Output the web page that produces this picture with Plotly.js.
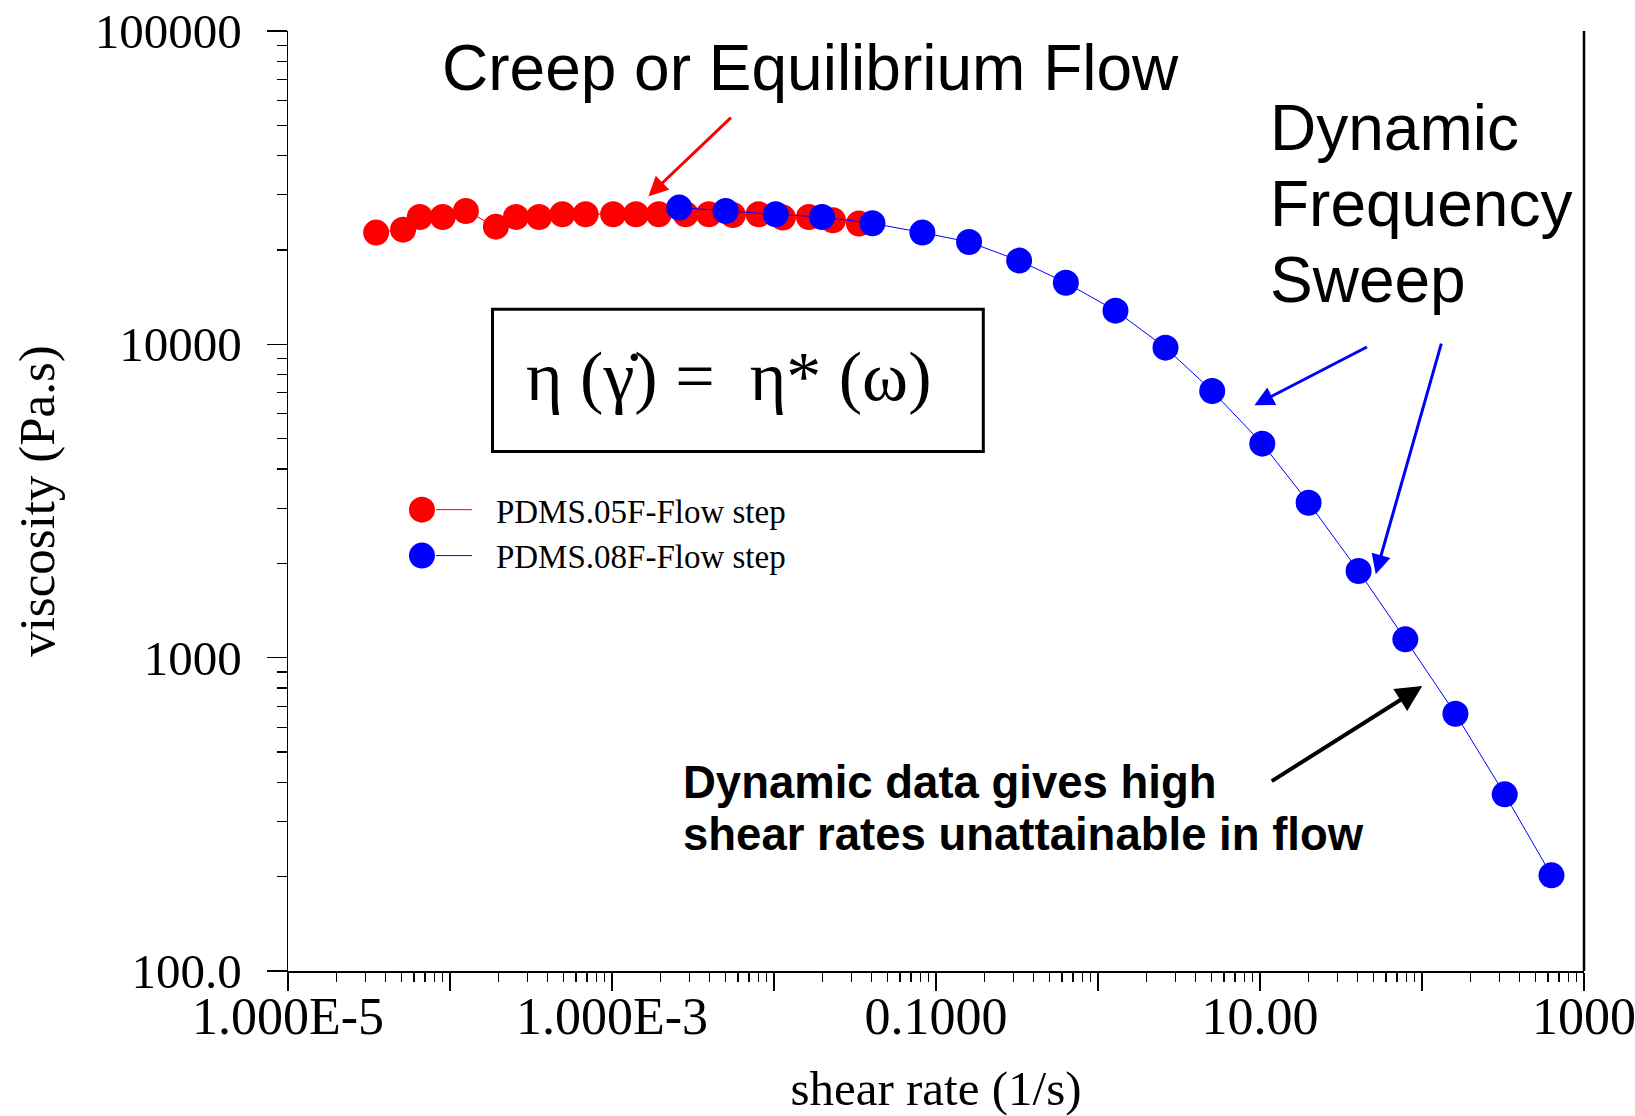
<!DOCTYPE html>
<html>
<head>
<meta charset="utf-8">
<script src="https://cdn.plot.ly/plotly-3.0.1.min.js"></script>
<style>
html,body{margin:0;padding:0;background:#ffffff;}
#chart{width:1635px;height:1116px;}
</style>
</head>
<body>
<div id="chart"></div>
<script>
// ---- data ----
const seriesNames = ['PDMS.05F-Flow step', 'PDMS.08F-Flow step'];

const flowShearRate = [3.50e-5, 5.13e-5, 6.51e-5, 9.02e-5, 1.253e-4, 1.92e-4, 2.553e-4, 3.548e-4,
  4.94e-4, 6.87e-4, 1.016e-3, 1.406e-3, 1.945e-3, 2.85e-3, 3.96e-3, 5.57e-3, 8.04e-3,
  1.135e-2, 1.643e-2, 2.311e-2, 3.345e-2];
const flowViscosity = [22730, 23230, 25490, 25490, 26650, 23750, 25490, 25490,
  26000, 26000, 26000, 26000, 26000, 26000, 26000, 25860, 26000,
  25380, 25490, 24880, 24290];

const dynShearRate = [0.0026, 0.00503, 0.01024, 0.0198, 0.0405, 0.0824, 0.160, 0.326, 0.633,
  1.282, 2.61, 5.07, 10.33, 19.95, 40.6, 78.9, 160.8, 324, 630];
const dynViscosity = [27320, 26650, 26000, 25490, 24340, 22730, 21210, 18500, 15730,
  12810, 9760, 7096, 4819, 3123, 1890, 1144, 662.5, 366.2, 202];

const xTickVals = [1e-5, 1e-4, 1e-3, 1e-2, 1e-1, 1, 10, 100, 1000];
const xTickText = ['1.000E-5', '', '1.000E-3', '', '0.1000', '', '10.00', '', '1000'];
const yTickVals = [100, 1000, 10000, 100000];
const yTickText = ['100.0', '1000', '10000', '100000'];

const xTitle = 'shear rate (1/s)';
const yTitle = 'viscosity (Pa.s)';

// minor tick positions (2..9 in each decade)
function minorTicks(e0, e1) {
  const out = [];
  for (let e = e0; e < e1; e++) {
    for (let d = 2; d <= 9; d++) out.push(d * Math.pow(10, e));
  }
  return out;
}
const xMinor = minorTicks(-5, 3);
const yMinor = minorTicks(2, 5);

const serif = 'Liberation Serif, Times New Roman, serif';
const sans = 'Liberation Sans, Arial, sans-serif';

const traces = [
  {
    x: flowShearRate, y: flowViscosity, name: seriesNames[0],
    type: 'scatter', mode: 'lines+markers',
    line: {color: '#ff0000', width: 1},
    marker: {color: '#ff0000', size: 26, line: {width: 0}}
  },
  {
    x: dynShearRate, y: dynViscosity, name: seriesNames[1],
    type: 'scatter', mode: 'lines+markers',
    line: {color: '#0000ff', width: 1},
    marker: {color: '#0000ff', size: 26, line: {width: 0}}
  }
];

const axisCommon = {
  type: 'log',
  tickmode: 'array',
  ticks: 'outside',
  tickwidth: 1.5,
  tickcolor: '#000',
  showline: true,
  linecolor: '#000',
  linewidth: 1.5,
  showgrid: false,
  zeroline: false,
  automargin: false,
  ticklabeloverflow: 'allow'
};

function arrow(x, y, ax, ay, color, width) {
  return {
    xref: 'paper', yref: 'paper', x: x, y: y, ax: ax, ay: ay,
    text: '', showarrow: true, arrowhead: 2, arrowsize: 1.3,
    arrowwidth: width, arrowcolor: color, standoff: 0, startstandoff: 0
  };
}
function label(text, x, y, xanchor, font) {
  return {xref: 'paper', yref: 'paper', x: x, y: y, xanchor: xanchor, yanchor: 'middle',
    text: text, showarrow: false, font: font};
}

const layout = {
  width: 1635, height: 1116,
  margin: {l: 288, r: 51, t: 31, b: 145, pad: 0},
  paper_bgcolor: '#ffffff', plot_bgcolor: '#ffffff',
  showlegend: true,
  legend: {
    x: 0.0910, y: 0.5205, xanchor: 'left', yanchor: 'top',
    bgcolor: 'rgba(0,0,0,0)', borderwidth: 0,
    itemwidth: 80, itemsizing: 'trace', tracegroupgap: 0,
    font: {family: serif, size: 33, color: '#000'}
  },
  xaxis: Object.assign({}, axisCommon, {
    range: [-5, 3],
    tickvals: xTickVals, ticktext: xTickText,
    ticklen: 18,
    ticklabelstandoff: -19,
    tickfont: {family: serif, size: 52, color: '#000'},
    title: {text: xTitle, font: {family: serif, size: 49, color: '#000'}, standoff: 47},
    minor: {tickmode: 'array', tickvals: xMinor, ticks: 'outside', ticklen: 9, tickwidth: 1.2, tickcolor: '#000', showgrid: false}
  }),
  yaxis: Object.assign({}, axisCommon, {
    range: [2, 5],
    tickvals: yTickVals, ticktext: yTickText,
    ticklen: 20,
    ticklabelstandoff: 15,
    tickfont: {family: serif, size: 49, color: '#000'},
    title: {text: yTitle, font: {family: serif, size: 51, color: '#000'}, standoff: 24},
    minor: {tickmode: 'array', tickvals: yMinor, ticks: 'outside', ticklen: 10, tickwidth: 1.2, tickcolor: '#000', showgrid: false}
  }),
  shapes: [
    {type: 'line', xref: 'paper', yref: 'paper', x0: 1, x1: 1, y0: 0, y1: 1,
      line: {color: '#000', width: 2.5}},
    {type: 'rect', xref: 'paper', yref: 'paper', x0: 0.1578, x1: 0.5365, y0: 0.5527, y1: 0.7040,
      line: {color: '#000', width: 3}, fillcolor: 'rgba(0,0,0,0)'}
  ],
  annotations: [
    label('Creep or Equilibrium Flow', 0.4031, 0.9605, 'center', {family: sans, size: 64, color: '#000'}),
    label('Dynamic', 0.7565, 0.8965, 'left', {family: sans, size: 64, color: '#000'}),
    label('Frequency', 0.7565, 0.8157, 'left', {family: sans, size: 64, color: '#000'}),
    label('Sweep', 0.7565, 0.7349, 'left', {family: sans, size: 64, color: '#000'}),
    label('Dynamic data gives high', 0.3030, 0.2010, 'left', {family: sans, size: 45.5, color: '#000', weight: 'bold'}),
    label('shear rates unattainable in flow', 0.3030, 0.1457, 'left', {family: sans, size: 45.5, color: '#000', weight: 'bold'}),
    label('\u03b7 (\u03b3\u0307) =\u00a0\u00a0\u03b7* (\u03c9)', 0.3402, 0.6320, 'center', {family: serif, size: 70, color: '#000'}),
    arrow(0.2781, 0.8242, 84, -80, '#ff0000', 3),
    arrow(0.7457, 0.6019, 114, -59, '#0000ff', 3),
    arrow(0.8393, 0.4222, 66, -232, '#0000ff', 3),
    arrow(0.8752, 0.3031, -152, 96, '#000000', 4)
  ]
};

function tweakLegend(gd) {
  try {
    const items = gd.querySelectorAll('.legend .traces');
    items.forEach(function (t) {
      const txt = t.querySelector('text.legendtext');
      const tx = txt ? (parseFloat(txt.getAttribute('x')) || 90) : 90;
      t.querySelectorAll('path.scatterpts').forEach(function (p) {
        p.setAttribute('d', 'M13,0A13,13 0 1,1 0,-13A13,13 0 0,1 13,0Z');
        p.setAttribute('transform', 'translate(' + (tx - 74) + ',0)');
      });
      t.querySelectorAll('path.js-line').forEach(function (l) {
        l.setAttribute('d', 'M' + (tx - 60) + ',0h36');
      });
    });
  } catch (e) {}
}

const gd = document.getElementById('chart');
Plotly.newPlot(gd, traces, layout, {displayModeBar: false, staticPlot: true}).then(function () {
  tweakLegend(gd);
});
</script>
</body>
</html>
